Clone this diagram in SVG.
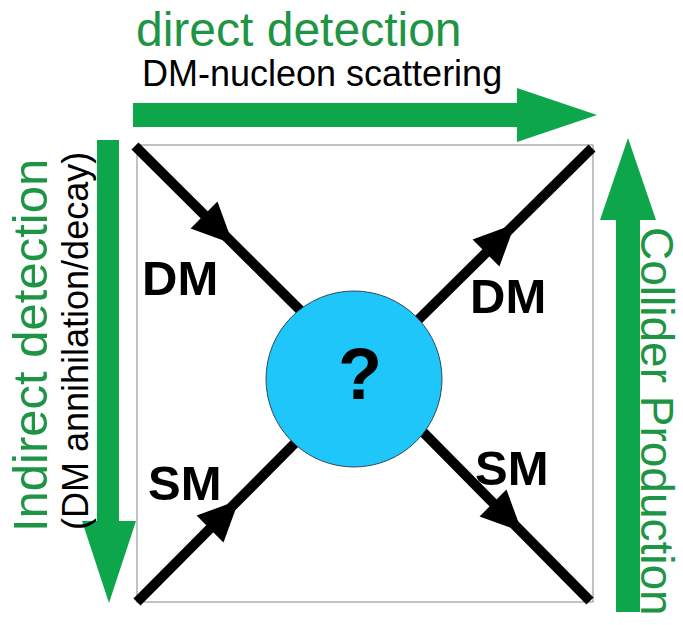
<svg xmlns="http://www.w3.org/2000/svg" width="683" height="625" viewBox="0 0 683 625">
<style>
.g{fill:#0da64b}
.gt{fill:#1e9445;font-family:"Liberation Sans",Arial,sans-serif}
.bt{fill:#000;font-family:"Liberation Sans",Arial,sans-serif}
.lbl{fill:#000;font-family:"Liberation Sans",Arial,sans-serif;font-weight:bold;font-size:49px}
.ln{stroke:#000;stroke-width:10;fill:none}
</style>
<defs>
<polygon id="ah" points="0,0 -41,-19 -41,19" fill="#000"/>
</defs>
<rect id="frame" x="137" y="145" width="456" height="457" fill="#fff" stroke="#9a9a9a" stroke-width="1.2"/>
<g id="detection-arrows">
<polygon class="g" points="133,103 517,103 517,88 597,115 517,142 517,127 133,127"/>
<polygon class="g" points="97,140 119,140 119,521 136,521 109,603 82,521 97,521"/>
<polygon class="g" points="616,612 640,612 640,220 656,220 628,138 600,220 616,220"/>
</g>
<g id="connectors">
<line class="ln" x1="135" y1="146" x2="305" y2="315"/>
<line class="ln" x1="592" y1="148" x2="415" y2="323"/>
<line class="ln" x1="137" y1="602" x2="303" y2="435"/>
<line class="ln" x1="590" y1="601" x2="423" y2="432"/>
<use href="#ah" transform="translate(233,244) rotate(45)"/>
<use href="#ah" transform="translate(515,224) rotate(-45)"/>
<use href="#ah" transform="translate(239,500) rotate(-45)"/>
<use href="#ah" transform="translate(522,532) rotate(45)"/>
</g>
<g id="vertex">
<circle cx="354" cy="379" r="88" fill="#1ec6fa" stroke="#2d4b5a" stroke-width="1"/>
<text class="lbl" x="360" y="399" style="font-size:72px" text-anchor="middle">?</text>
</g>
<g id="labels">
<text class="lbl" x="142" y="295">DM</text>
<text class="lbl" x="470" y="313">DM</text>
<text class="lbl" x="148" y="500">SM</text>
<text class="lbl" x="475" y="485">SM</text>
</g>
<g id="titles">
<text class="gt" x="136" y="46" font-size="48">direct detection</text>
<text class="bt" x="142" y="86" font-size="36">DM-nucleon scattering</text>
<text class="gt" font-size="49" transform="translate(47,532) rotate(-90)">Indirect detection</text>
<text class="bt" font-size="36" transform="translate(88,530) rotate(-90)">(DM annihilation/decay)</text>
<text class="gt" font-size="46" transform="translate(641,227) rotate(90)">Collider Production</text>
</g>
</svg>
